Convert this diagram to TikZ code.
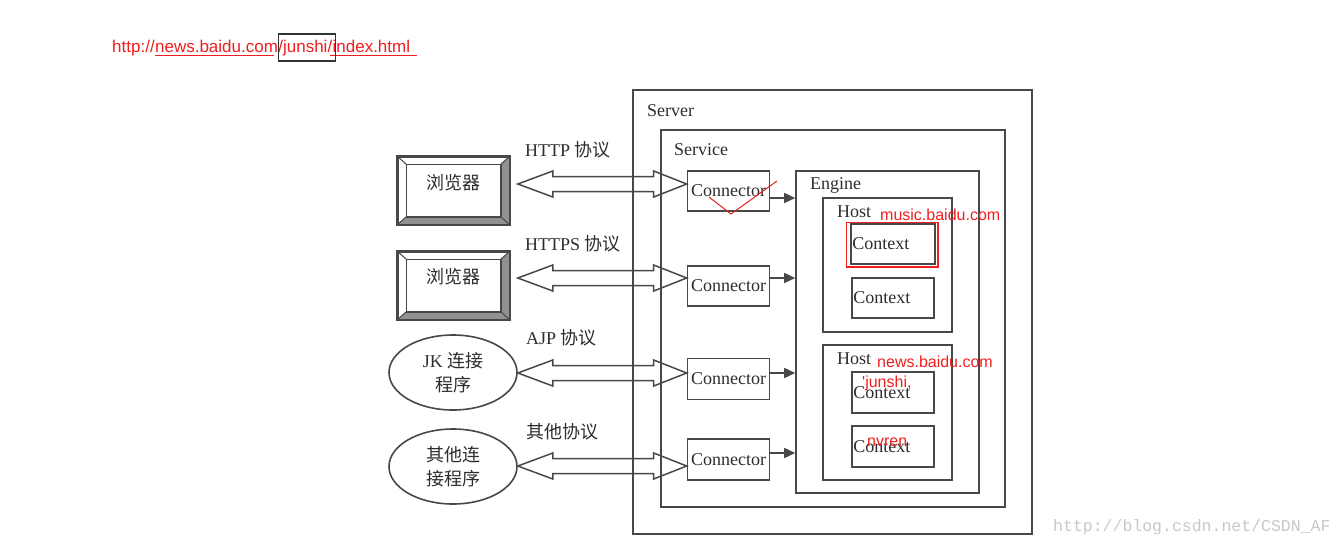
\documentclass[tikz,border=0pt]{standalone}
\usepackage{fontspec}
\setmainfont{Liberation Serif}
\newfontfamily\cjk{Noto Sans CJK SC}
\newfontfamily\annot{Liberation Sans}
\newfontfamily\wmark{Liberation Mono}
\usetikzlibrary{shapes.geometric,calc,arrows.meta}
\definecolor{ln}{RGB}{72,72,72}
\definecolor{tx}{RGB}{45,45,45}
\definecolor{bev}{RGB}{145,145,145}
\definecolor{rd}{RGB}{240,30,30}
\definecolor{wm}{RGB}{200,200,200}
\newcommand\dblarrow[2]{%
 \draw[dbl] let \p1=(#1), \p2=(#2) in (\x1,\y1) -- (\x1+35pt,\y1+13pt) -- (\x1+35pt,\y1+7.5pt) -- (\x2-33pt,\y1+7.5pt) -- (\x2-33pt,\y1+13pt) -- (\x2,\y1) -- (\x2-33pt,\y1-13pt) -- (\x2-33pt,\y1-7.5pt) -- (\x1+35pt,\y1-7.5pt) -- (\x1+35pt,\y1-13pt) -- cycle;}
\tikzset{
 box/.style={draw=ln, line width=1.6pt, rectangle, inner sep=0pt},
 bbox/.style={box, fill=white, minimum width=111pt, minimum height=67pt},
 ell/.style={draw=ln, line width=1.6pt, ellipse, inner sep=0pt, minimum width=128pt, minimum height=75pt, align=center, text=tx, font=\fontsize{18}{24}\selectfont},
 lbl/.style={inner sep=0pt, text=tx, font=\fontsize{18}{20}\selectfont},
 dbl/.style={draw=ln, line width=1.5pt, line join=miter},
 engarr/.style={draw=ln, line width=1.6pt, -{Triangle[length=11pt,width=10pt]}},
 url/.style={inner sep=0pt, anchor=base west, text=rd, font=\annot\fontsize{17}{20}\selectfont},
 note/.style={inner sep=0pt, anchor=west, text=rd, font=\annot\fontsize{16}{18}\selectfont},
}
\begin{document}
\begin{tikzpicture}[x=1pt,y=-1pt]
\useasboundingbox (0,0) rectangle (1344,547);
% top URL
\node[url] (u1) at (112,52) {http://};
\node[url] (u2) at (u1.base east) {news.baidu.com};
\node[url] (u3) at (u2.base east) {/junshi/};
\node[url] (u4) at (u3.base east) {index.html};
\draw[rd, line width=1pt] ($(u2.base west)+(0,3)$) -- ($(u2.base east)+(-4,3)$);
\draw[rd, line width=1pt] ($(u4.base west)+(-2,3)$) -- ($(u4.base east)+(7,3)$);
\draw[black!80, line width=1.2pt] ($(u3.base west)+(0,-18)$) rectangle ($(u3.base east)+(3,9)$);
% containers
\node[box, minimum width=399pt, minimum height=444pt] (server) at (832.5,312) {};
\node[box, minimum width=344pt, minimum height=377pt] (service) at (833,318.5) {};
\node[box, minimum width=183pt, minimum height=322pt] (engine) at (887.5,332) {};
\node[box, minimum width=129pt, minimum height=134pt] (host1) at (887.5,265) {};
\node[box, minimum width=129pt, minimum height=135pt] (host2) at (887.5,412.5) {};
\node[lbl, anchor=west] (tserver) at (647,111) {Server};
\node[lbl, anchor=west] (tservice) at (674,150) {Service};
\node[lbl, anchor=west] (tengine) at (810,185) {Engine};
\node[lbl, anchor=west] (thost1) at (837,212) {Host};
\node[lbl, anchor=west] (thost2) at (837,359) {Host};
% contexts
\node[box, minimum width=84pt, minimum height=40pt] (ct1) at (893,244) {};
\node[box, minimum width=82pt, minimum height=40pt] (ct2) at (893,298) {};
\node[box, minimum width=82pt, minimum height=41pt] (ct3) at (893,392.5) {};
\node[box, minimum width=82pt, minimum height=41pt] (ct4) at (893,446.5) {};
\foreach \c in {ct1,ct2,ct3,ct4}{
 \node[lbl, anchor=west] at ($(\c.west)+(2,0)$) {Context};
}
% connectors
\node[box, minimum width=82pt, minimum height=40pt, font=\fontsize{18}{20}\selectfont, text=tx] (c1) at (728.5,191) {Connector};
\node[box, minimum width=82pt, minimum height=40pt, font=\fontsize{18}{20}\selectfont, text=tx] (c2) at (728.5,286) {Connector};
\node[box, minimum width=82pt, minimum height=41pt, font=\fontsize{18}{20}\selectfont, text=tx] (c3) at (728.5,379) {Connector};
\node[box, minimum width=82pt, minimum height=41pt, font=\fontsize{18}{20}\selectfont, text=tx] (c4) at (728.5,459.5) {Connector};
% engine arrows
\coordinate (s1) at ($(c1.east)+(0,7)$);
\coordinate (s2) at ($(c2.east)+(0,-8)$);
\coordinate (s3) at ($(c3.east)+(0,-6)$);
\coordinate (s4) at ($(c4.east)+(0,-6.5)$);
\foreach \s in {s1,s2,s3,s4}{
 \draw[engarr] (\s) -- (\s -| engine.west);
}
% clients
\node[bbox] (b1) at (453.5,190.5) {};
\node[bbox] (b2) at (453.5,285.5) {};
\foreach \b in {b1,b2}{
 \fill[bev] (\b.north east) -- (\b.south east) -- ($(\b.south east)+(-9,-8)$) -- ($(\b.north east)+(-9,8)$) -- cycle;
 \fill[bev] (\b.south west) -- (\b.south east) -- ($(\b.south east)+(-9,-8)$) -- ($(\b.south west)+(9,-8)$) -- cycle;
 \draw[ln, line width=1.4pt] ($(\b.north west)+(9,8)$) rectangle ($(\b.south east)+(-9,-8)$);
 \draw[ln, line width=1pt] (\b.north west) -- ($(\b.north west)+(9,8)$);
 \draw[ln, line width=1pt] (\b.north east) -- ($(\b.north east)+(-9,8)$);
 \draw[ln, line width=1pt] (\b.south west) -- ($(\b.south west)+(9,-8)$);
 \draw[ln, line width=1pt] (\b.south east) -- ($(\b.south east)+(-9,-8)$);
 \draw[ln, line width=1.6pt] (\b.north west) rectangle (\b.south east);
}
\node[lbl, font=\cjk\fontsize{18}{20}\selectfont] (tb1) at (453.5,183) {浏览器};
\node[lbl, font=\cjk\fontsize{18}{20}\selectfont] (tb2) at (453.5,277) {浏览器};
\node[ell] (e1) at (453,372.5) {JK {\cjk 连接}\\{\cjk 程序}};
\node[ell] (e2) at (453,466.5) {{\cjk 其他连}\\{\cjk 接程序}};
% protocol labels
\node[lbl, anchor=west] (p1) at (525,150) {HTTP {\cjk 协议}};
\node[lbl, anchor=west] (p2) at (525,244) {HTTPS {\cjk 协议}};
\node[lbl, anchor=west] (p3) at (526,338) {AJP {\cjk 协议}};
\node[lbl, anchor=west, font=\cjk\fontsize{18}{20}\selectfont] (p4) at (526,432) {其他协议};
% double arrows
\coordinate (a1l) at ($(b1.east)+(8,-6.5)$);
\coordinate (a2l) at ($(b2.east)+(8,-7.5)$);
\coordinate (a3l) at ($(e1.east)+(0,0.5)$);
\coordinate (a4l) at ($(e2.east)+(0,-0.5)$);
\dblarrow{a1l}{a1l -| c1.west}
\dblarrow{a2l}{a2l -| c2.west}
\dblarrow{a3l}{a3l -| c3.west}
\dblarrow{a4l}{a4l -| c4.west}
% red annotations
\coordinate (v1) at (709,197);
\coordinate (v2) at (731,214);
\coordinate (v3) at (777,181);
\draw[rd, line width=1pt] (v1) -- (v2) -- (v3);
\draw[rd, line width=1.4pt] ($(ct1.north west)+(-4,-1)$) rectangle ($(ct1.south east)+(2,2)$);
\node[note] (n1) at (880,215) {music.baidu.com};
\node[note] (n2) at (877,362) {news.baidu.com};
\node[note] (n3) at (862,383) {'junshi,};
\node[note] (n4) at (867,442) {nvren};
% watermark
\node[inner sep=0pt, anchor=west, text=wm, font=\wmark\fontsize{16.5}{18}\selectfont] (wmk) at (1053,527) {http://blog.csdn.net/CSDN\_AF};
\end{tikzpicture}
\end{document}
